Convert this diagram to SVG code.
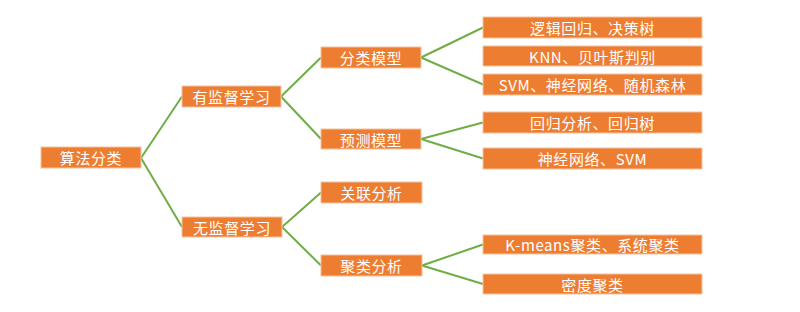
<svg xmlns="http://www.w3.org/2000/svg" width="800" height="312" viewBox="0 0 800 312">
  <style>
    .box { fill: #ED7D31; stroke: #F6C2A0; stroke-width: 1; }
    .lbl { fill: #FFFFFF; font-family: "Noto Sans CJK SC", "Noto Sans", sans-serif; font-size: 15px; letter-spacing: 0.6px; text-anchor: middle; dominant-baseline: central; }
    .edge { stroke: #70AD47; stroke-width: 2; fill: none; }
  </style>
  <rect width="800" height="312" fill="#FFFFFF"/>

  <!-- connectors: right-middle of parent to left-middle of child -->
  <g id="connectors">
    <line class="edge" x1="141" y1="158" x2="182" y2="96.5"/>
    <line class="edge" x1="141" y1="158" x2="182" y2="227"/>
    <line class="edge" x1="281" y1="96.5" x2="321" y2="57.5"/>
    <line class="edge" x1="281" y1="96.5" x2="321" y2="139"/>
    <line class="edge" x1="282" y1="227" x2="321" y2="192.5"/>
    <line class="edge" x1="282" y1="227" x2="321" y2="265.5"/>
    <line class="edge" x1="421" y1="57.5" x2="483" y2="27.5"/>
    <line class="edge" x1="421" y1="57.5" x2="483" y2="84.5"/>
    <line class="edge" x1="421" y1="139" x2="483" y2="122.5"/>
    <line class="edge" x1="421" y1="139" x2="483" y2="158.5"/>
    <line class="edge" x1="422" y1="265.5" x2="483" y2="244.5"/>
    <line class="edge" x1="422" y1="265.5" x2="483" y2="284"/>
  </g>

  <g id="root">
    <rect class="box" x="41" y="147" width="100" height="21"/>
    <text class="lbl" x="91" y="157.5">算法分类</text>
  </g>

  <g id="supervised">
    <rect class="box" x="182" y="86" width="99" height="21"/>
    <text class="lbl" x="231.5" y="96.5">有监督学习</text>
  </g>
  <g id="unsupervised">
    <rect class="box" x="182" y="217" width="100" height="20"/>
    <text class="lbl" x="232" y="227">无监督学习</text>
  </g>

  <g id="classification">
    <rect class="box" x="321" y="47" width="100" height="21"/>
    <text class="lbl" x="371" y="57.5">分类模型</text>
  </g>
  <g id="prediction">
    <rect class="box" x="321" y="129" width="100" height="20"/>
    <text class="lbl" x="371" y="139">预测模型</text>
  </g>
  <g id="association">
    <rect class="box" x="321" y="182" width="101" height="21"/>
    <text class="lbl" x="371.5" y="192.5">关联分析</text>
  </g>
  <g id="clustering">
    <rect class="box" x="321" y="255" width="101" height="21"/>
    <text class="lbl" x="371.5" y="265.5">聚类分析</text>
  </g>

  <g id="leaf-logistic">
    <rect class="box" x="483" y="17" width="219" height="21"/>
    <text class="lbl" x="592.5" y="27.5">逻辑回归、决策树</text>
  </g>
  <g id="leaf-knn">
    <rect class="box" x="483" y="46" width="219" height="20"/>
    <text class="lbl" x="592.5" y="56">KNN、贝叶斯判别</text>
  </g>
  <g id="leaf-svm">
    <rect class="box" x="483" y="74" width="219" height="21"/>
    <text class="lbl" x="592.5" y="84.5">SVM、神经网络、随机森林</text>
  </g>
  <g id="leaf-regression">
    <rect class="box" x="483" y="112" width="219" height="21"/>
    <text class="lbl" x="592.5" y="122.5">回归分析、回归树</text>
  </g>
  <g id="leaf-nn">
    <rect class="box" x="483" y="148" width="219" height="21"/>
    <text class="lbl" x="592.5" y="158.5">神经网络、SVM</text>
  </g>
  <g id="leaf-kmeans">
    <rect class="box" x="483" y="235" width="219" height="19"/>
    <text class="lbl" x="592.5" y="244.5">K-means聚类、系统聚类</text>
  </g>
  <g id="leaf-density">
    <rect class="box" x="483" y="274" width="219" height="20"/>
    <text class="lbl" x="592.5" y="284">密度聚类</text>
  </g>
</svg>
